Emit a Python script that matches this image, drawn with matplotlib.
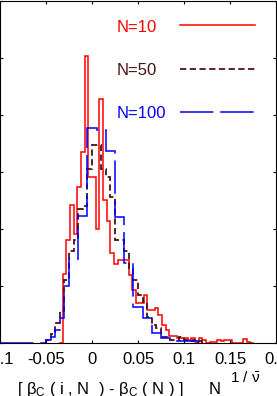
import numpy as np
import matplotlib
matplotlib.use("Agg")
import matplotlib.pyplot as plt
from matplotlib.lines import Line2D

plt.rcParams['font.family'] = ['Liberation Sans', 'DejaVu Sans']
plt.rcParams['font.size'] = 12
plt.rcParams['mathtext.fontset'] = 'custom'
plt.rcParams['mathtext.rm'] = 'Liberation Sans'
plt.rcParams['mathtext.it'] = 'Liberation Sans'
plt.rcParams['mathtext.bf'] = 'Liberation Sans:bold'
plt.rcParams['lines.scale_dashes'] = False

# histogram heights (arbitrary units)
red_start, red_width = -0.036, 0.004
red_h = [0, 1.2, 1.8, 2.42, 1.9, 2.73, 3.34, 5.03, 2.9, 2.9,
         2.0, 4.28, 2.5, 2.14, 1.57, 1.38, 1.45, 1.45, 1.45, 1.18,
         0.92, 0.69, 0.69, 0.83, 0.57, 0.57, 0.6, 0.48, 0.31, 0.22,
         0.12, 0.12, 0.09, 0.09, 0.09, 0.05, 0.08, 0.02, 0.08, 0.05,
         0, 0.02, 0.02, 0.04, 0.03, 0.05, 0.05, 0, 0, 0,
         0.07, 0.02, 0]

brown_start, brown_width = -0.05, 0.005
brown_h = [0.05, 0.15, 0.35, 0.55, 1.1, 1.6, 1.8, 2.35, 2.4, 3.05,
           3.47, 3.47, 3.05, 2.9, 2.55, 1.8, 1.8, 1.6, 1.3, 1.1,
           0.83, 0.72, 0.45, 0.31, 0.26, 0.1, 0.1, 0.05, 0.05, 0.1,
           0.05, 0.03, 0.05, 0.03]

blue_start, blue_width = -0.1, 0.005
blue_h = [0, 0, 0, 0, 0, 0, 0, 0, 0, 0,
          0.05, 0.1, 0.22, 0.43, 1.0, 1.47, 1.47, 2.23, 2.23, 3.77,
          3.77, 3.73, 3.73, 3.37, 3.37, 2.2, 2.2, 1.4, 1.4, 0.63,
          0.63, 0.44, 0.44, 0.17, 0.17, 0.08, 0.08, 0.03, 0.03, 0.03,
          0.03, 0.03, 0.03]

xticks = [-0.1, -0.05, 0, 0.05, 0.1, 0.15, 0.2]
xticklabels = ["-0.1", "-0.05", "0", "0.05", "0.1", "0.15", "0.2"]

labels = ["N=10", "N=50", "N=100"]
colors = ["#ff0000", "#4a1212", "#0000ff"]

W, H = 277, 396
fig = plt.figure(figsize=(W / 100, H / 100), dpi=100)
ax = fig.add_axes([0.0, 0.1346, 0.9964, 0.8641])


def edges(start, width, h):
    return start + width * np.arange(len(h) + 1)


ax.stairs(red_h, edges(red_start, red_width, red_h), color=colors[0], lw=1.1)
ax.stairs(brown_h, edges(brown_start, brown_width, brown_h), color=colors[1],
          lw=1.3, linestyle=(0, (4.5, 2.5)))
ax.stairs(blue_h, edges(blue_start, blue_width, blue_h), color=colors[2],
          lw=1.1, linestyle=(0, (24, 5)))

ax.set_xlim(-0.1, 0.2)
ax.set_ylim(0, 6)
ax.set_xticks(xticks)
ax.set_xticklabels(xticklabels)
ax.set_yticks(range(7))
ax.tick_params(direction='in', length=2.5, width=0.8, top=True, right=True,
               labelleft=False, pad=6.5)
for s in ax.spines.values():
    s.set_linewidth(0.8)

# legend drawn by hand (text left-aligned, samples to the right)
def fx(px):
    return px / W


def fy(py):
    return 1 - py / H


text_y = [31.7, 75, 118.3]
line_y = [25, 69, 111.7]
styles = ['-', (0, (4.5, 2.5)), (0, (24, 5))]
widths = [1.1, 1.3, 1.1]
for lab, c, ty, ly, ls, lw in zip(labels, colors, text_y, line_y, styles, widths):
    fig.text(fx(116.7), fy(ty), lab, color=c, fontsize=12, va='baseline')
    fig.add_artist(Line2D([fx(180), fx(255)], [fy(ly), fy(ly)], color=c,
                          lw=lw, linestyle=ls))

# x label
fig.text(fx(17), fy(393.6),
         r"[ $\beta_C$ ( i , N  ) - $\beta_C$ ( N ) ]", fontsize=12,
         va='baseline')
fig.text(fx(209), fy(393.6), "N", fontsize=12, va='baseline')
fig.text(fx(230), fy(382), r"1 / $\bar{\nu}$", fontsize=11, va='baseline')

fig.savefig("out.png", dpi=100)
